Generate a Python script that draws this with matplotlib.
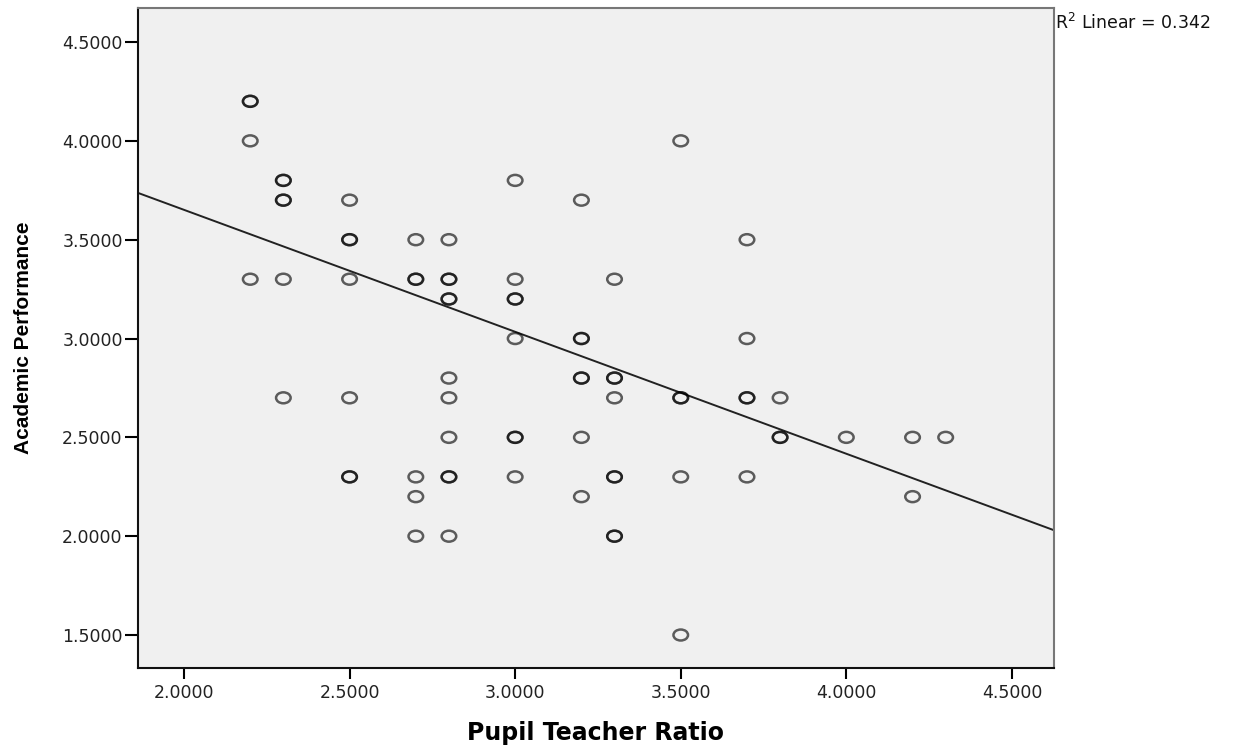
import numpy as np
import matplotlib as mpl
import matplotlib.pyplot as plt
from matplotlib.path import Path
from matplotlib.markers import MarkerStyle
from matplotlib.transforms import Affine2D

mpl.use("Agg")

# Data (repeated pairs = overlapping, darker circles)
pupil_teacher_ratio = [
    2.2, 2.2, 2.2, 3.5,
    2.3, 2.3, 3.0,
    2.3, 2.3, 2.5, 3.2,
    2.5, 2.5, 2.7, 2.8, 3.7,
    2.2, 2.3, 2.5, 2.7, 2.7, 2.8, 2.8, 3.0, 3.3,
    2.8, 2.8, 3.0, 3.0,
    3.0, 3.2, 3.2, 3.7,
    2.8, 3.2, 3.2, 3.3, 3.3,
    2.3, 2.5, 2.8, 3.3, 3.5, 3.5, 3.7, 3.7, 3.8,
    2.8, 3.0, 3.0, 3.2, 3.8, 3.8, 4.0, 4.2, 4.3,
    2.5, 2.5, 2.7, 2.8, 2.8, 3.0, 3.3, 3.3, 3.5, 3.7,
    2.7, 3.2, 4.2,
    2.7, 2.8, 3.3, 3.3,
    3.5,
]
academic_performance = [
    4.2, 4.2, 4.0, 4.0,
    3.8, 3.8, 3.8,
    3.7, 3.7, 3.7, 3.7,
    3.5, 3.5, 3.5, 3.5, 3.5,
    3.3, 3.3, 3.3, 3.3, 3.3, 3.3, 3.3, 3.3, 3.3,
    3.2, 3.2, 3.2, 3.2,
    3.0, 3.0, 3.0, 3.0,
    2.8, 2.8, 2.8, 2.8, 2.8,
    2.7, 2.7, 2.7, 2.7, 2.7, 2.7, 2.7, 2.7, 2.7,
    2.5, 2.5, 2.5, 2.5, 2.5, 2.5, 2.5, 2.5, 2.5,
    2.3, 2.3, 2.3, 2.3, 2.3, 2.3, 2.3, 2.3, 2.3, 2.3,
    2.2, 2.2, 2.2,
    2.0, 2.0, 2.0, 2.0,
    1.5,
]

# Linear fit line as shown on the chart
fit_slope = -0.617
fit_intercept = 4.885
r_squared = 0.342

x_ticks = [2.0, 2.5, 3.0, 3.5, 4.0, 4.5]
y_ticks = [1.5, 2.0, 2.5, 3.0, 3.5, 4.0, 4.5]
x_limits = (1.861, 4.627)
y_limits = (1.333, 4.672)

fig = plt.figure(figsize=(12.33, 7.5), dpi=100)
ax = fig.add_axes([0.1119, 0.1093, 0.7429, 0.88])
ax.set_facecolor("#f0f0f0")

# slightly wide ellipse marker (the source picture is stretched sideways)
ellipse = Path.unit_circle().transformed(Affine2D().scale(1.33, 1.0))
marker = MarkerStyle(ellipse)

ax.scatter(pupil_teacher_ratio, academic_performance, marker=marker, s=10.5 ** 2,
           facecolors="none", edgecolors=(0, 0, 0, 0.62), linewidths=1.8, zorder=3)

# Regression line across the whole axis
line_x = np.array(x_limits)
ax.plot(line_x, fit_intercept + fit_slope * line_x, color="#222222", lw=1.4, zorder=2)

ax.set_xlim(*x_limits)
ax.set_ylim(*y_limits)
ax.set_xticks(x_ticks)
ax.set_yticks(y_ticks)
ax.set_xticklabels([f"{v:.4f}" for v in x_ticks])
ax.set_yticklabels([f"{v:.4f}" for v in y_ticks])
ax.tick_params(axis="x", length=8, width=1.5, pad=3.5, labelsize=12.5, labelcolor="#222222")
ax.tick_params(axis="y", length=9.5, width=1.5, pad=1.5, labelsize=12.5, labelcolor="#222222")

for side in ["left", "bottom"]:
    ax.spines[side].set_linewidth(1.5)
    ax.spines[side].set_color("#111111")
for side in ["top", "right"]:
    ax.spines[side].set_linewidth(1.5)
    ax.spines[side].set_color("#777777")

ax.set_xlabel("Pupil Teacher Ratio", fontsize=17, fontweight="bold", labelpad=14)
ax.set_ylabel("Academic Performance", fontsize=15, fontweight="bold",
              family="Liberation Sans", labelpad=21)

fig.text(0.8557, 0.9693, rf"R$^2$ Linear = {r_squared:.3f}", fontsize=12.5,
         ha="left", va="center", color="#111111")

plt.savefig("out.png", dpi=100)
